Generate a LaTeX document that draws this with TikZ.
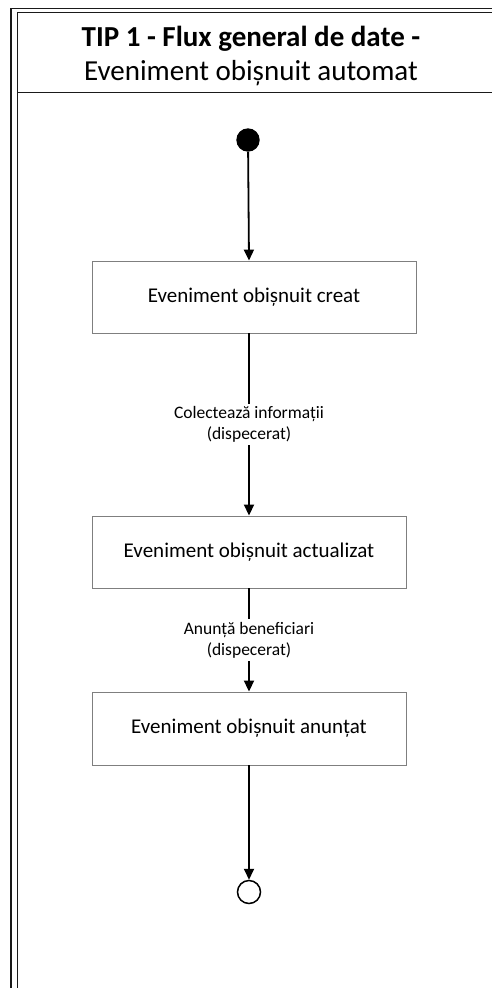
\documentclass[tikz,border=0pt]{standalone}
\usepackage{fontspec}
\setmainfont{Carlito}
\usetikzlibrary{arrows.meta}
\definecolor{boxgray}{HTML}{7F7F7F}
\definecolor{framegray}{HTML}{1A1A1A}
\begin{document}
\begin{tikzpicture}[x=1pt,y=-1pt,
  frameline/.style={draw=framegray,line width=1.3pt},
  statebox/.style={draw=boxgray,line width=0.9pt,fill=white,inner sep=0pt,
    font=\fontsize{21}{25}\selectfont},
  flow/.style={draw=black,line width=1.8pt,-{Triangle[width=10pt,length=11pt]}},
  flowlabel/.style={fill=white,align=center,inner sep=3pt,
    font=\fontsize{17.5}{21}\selectfont}]
\useasboundingbox (0,0) rectangle (492,988);
\fill[white] (0,0) rectangle (492,988);
% swimlane frame (double line)
\draw[frameline] (11,990) -- (11,8.5) -- (494,8.5);
\draw[frameline] (17.5,990) -- (17.5,12.7) -- (494,12.7);
\draw[framegray,line width=1.5pt] (17.5,92.7) -- (494,92.7);
% header
\node[anchor=base,font=\fontsize{29}{34}\selectfont\bfseries] (title1) at (251,46.5) {TIP 1 - Flux general de date -};
\node[anchor=base,font=\fontsize{29}{34}\selectfont] (title2) at (251,80) {Eveniment obișnuit automat};
% nodes
\node[circle,fill=black,minimum size=23.4pt,inner sep=0pt] (start) at (248,140) {};
\node[statebox,minimum width=324pt,minimum height=72pt] (box1) at (254,297) {Eveniment obișnuit creat};
\node[statebox,minimum width=314pt,minimum height=72pt] (box2) at (249,552) {Eveniment obișnuit actualizat};
\node[statebox,minimum width=314pt,minimum height=73pt] (box3) at (249,728.5) {Eveniment obișnuit anunțat};
\node[circle,draw=black,line width=1.5pt,fill=white,minimum size=23pt,inner sep=0pt] (endc) at (249,892) {};
% connectors
\draw[flow] (start) -- (box1.north -| box2.north);
\draw[flow] (box1.south -| box2.north) -- node[flowlabel] (lab1) {Colectează informații\\(dispecerat)} (box2.north);
\draw[flow] (box2.south) -- node[flowlabel] (lab2) {Anunță beneficiari\\(dispecerat)} (box3.north);
\draw[flow] (box3.south) -- (endc.north);
\end{tikzpicture}
\end{document}
